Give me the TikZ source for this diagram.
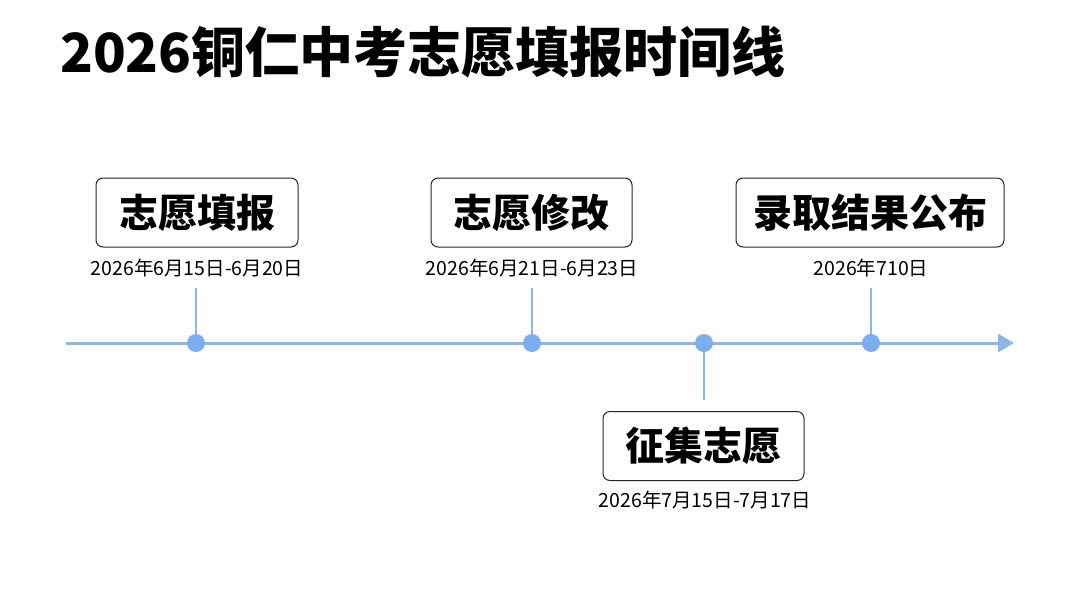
\documentclass[tikz,border=0pt]{standalone}
\usepackage{fontspec}
\setmainfont{Noto Sans CJK SC}
\usetikzlibrary{arrows.meta}
\definecolor{axisblue}{HTML}{8DB5E6}
\definecolor{dotblue}{HTML}{7AAEF0}
\begin{document}
\begin{tikzpicture}[x=1pt,y=-1pt,
  lbl/.style={draw=black!85,line width=1pt,rounded corners=7pt,minimum width=#1,minimum height=69pt,inner sep=0pt,font=\fontsize{39}{39}\selectfont\bfseries},
  datel/.style={font=\fontsize{19.5}{20}\selectfont,inner sep=0pt},
  dot/.style={circle,fill=dotblue,minimum size=18pt,inner sep=0pt},
  stem/.style={axisblue,line width=1.5pt}]
\useasboundingbox[fill=white] (0,0) rectangle (1080,608);
\node[anchor=west,font=\fontsize{54}{54}\selectfont\bfseries,inner sep=0pt] (title) at (60,52) {2026铜仁中考志愿填报时间线};
\coordinate (a0) at (66,343);
\coordinate (a1) at (1014,343);
\draw[axisblue,line width=3pt,-{Triangle[length=16pt,width=18pt]}] (a0) -- (a1);
\node[lbl=202pt] (b1) at (197,212.5) {志愿填报};
\node[lbl=201pt] (b2) at (531.5,212.5) {志愿修改};
\node[lbl=268pt] (b3) at (870,212.5) {录取结果公布};
\node[lbl=201pt] (b4) at (703.5,446) {征集志愿};
\node[datel] (d1) at (197,268) {2026年6月15日-6月20日};
\node[datel] (d2) at (532,268) {2026年6月21日-6月23日};
\node[datel] (d3) at (871,268) {2026年710日};
\node[datel] (d4) at (705,500) {2026年7月15日-7月17日};
\node[dot] (p1) at (196,343) {};
\node[dot] (p2) at (532,343) {};
\node[dot] (p3) at (704,343) {};
\node[dot] (p4) at (871,343) {};
\coordinate (s1) at (196,288);
\coordinate (s2) at (532,288);
\coordinate (s3) at (704,400);
\coordinate (s4) at (871,288);
\draw[stem] (s1) -- (p1.north);
\draw[stem] (s2) -- (p2.north);
\draw[stem] (s3) -- (p3.south);
\draw[stem] (s4) -- (p4.north);
\end{tikzpicture}
\end{document}
